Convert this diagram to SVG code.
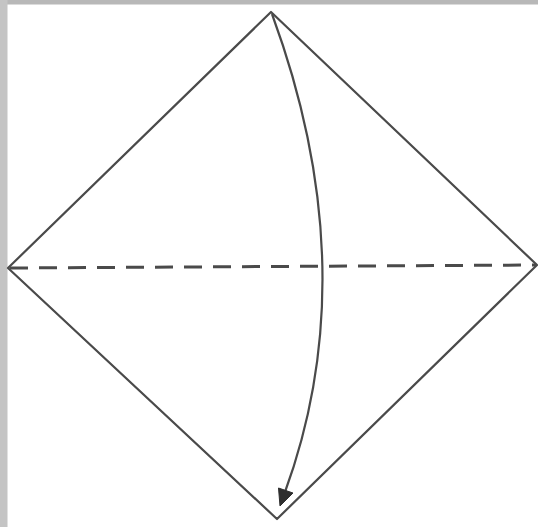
<svg xmlns="http://www.w3.org/2000/svg" width="538" height="527" viewBox="0 0 538 527">
<style>
.edge{stroke:#4a4a4a;stroke-width:2.2;fill:none;stroke-linejoin:round}
.dash{stroke:#4a4a4a;stroke-width:3;stroke-dasharray:18 11;fill:none}
.head{fill:#2e2e2e;stroke:#2e2e2e;stroke-width:1;stroke-linejoin:round}
</style>
<rect width="538" height="527" fill="#ffffff"/>
<rect x="0" y="0" width="538" height="4.5" fill="#b8b8b8"/>
<rect x="0" y="0" width="7.5" height="527" fill="#c4c4c4"/>
<g id="paper">
<polygon points="271,12 537,265 277,519 8,268" fill="#ebebe7" class="edge"/>
</g>
<g id="fold">
<line x1="10" y1="268" x2="536" y2="265" class="dash"/>
</g>
<g id="connectors">
<path d="M272,14 Q366,270 285,492" class="edge" stroke-width="2"/>
<polygon points="280,506 278.5,488 293,493" class="head"/>
</g>
</svg>
